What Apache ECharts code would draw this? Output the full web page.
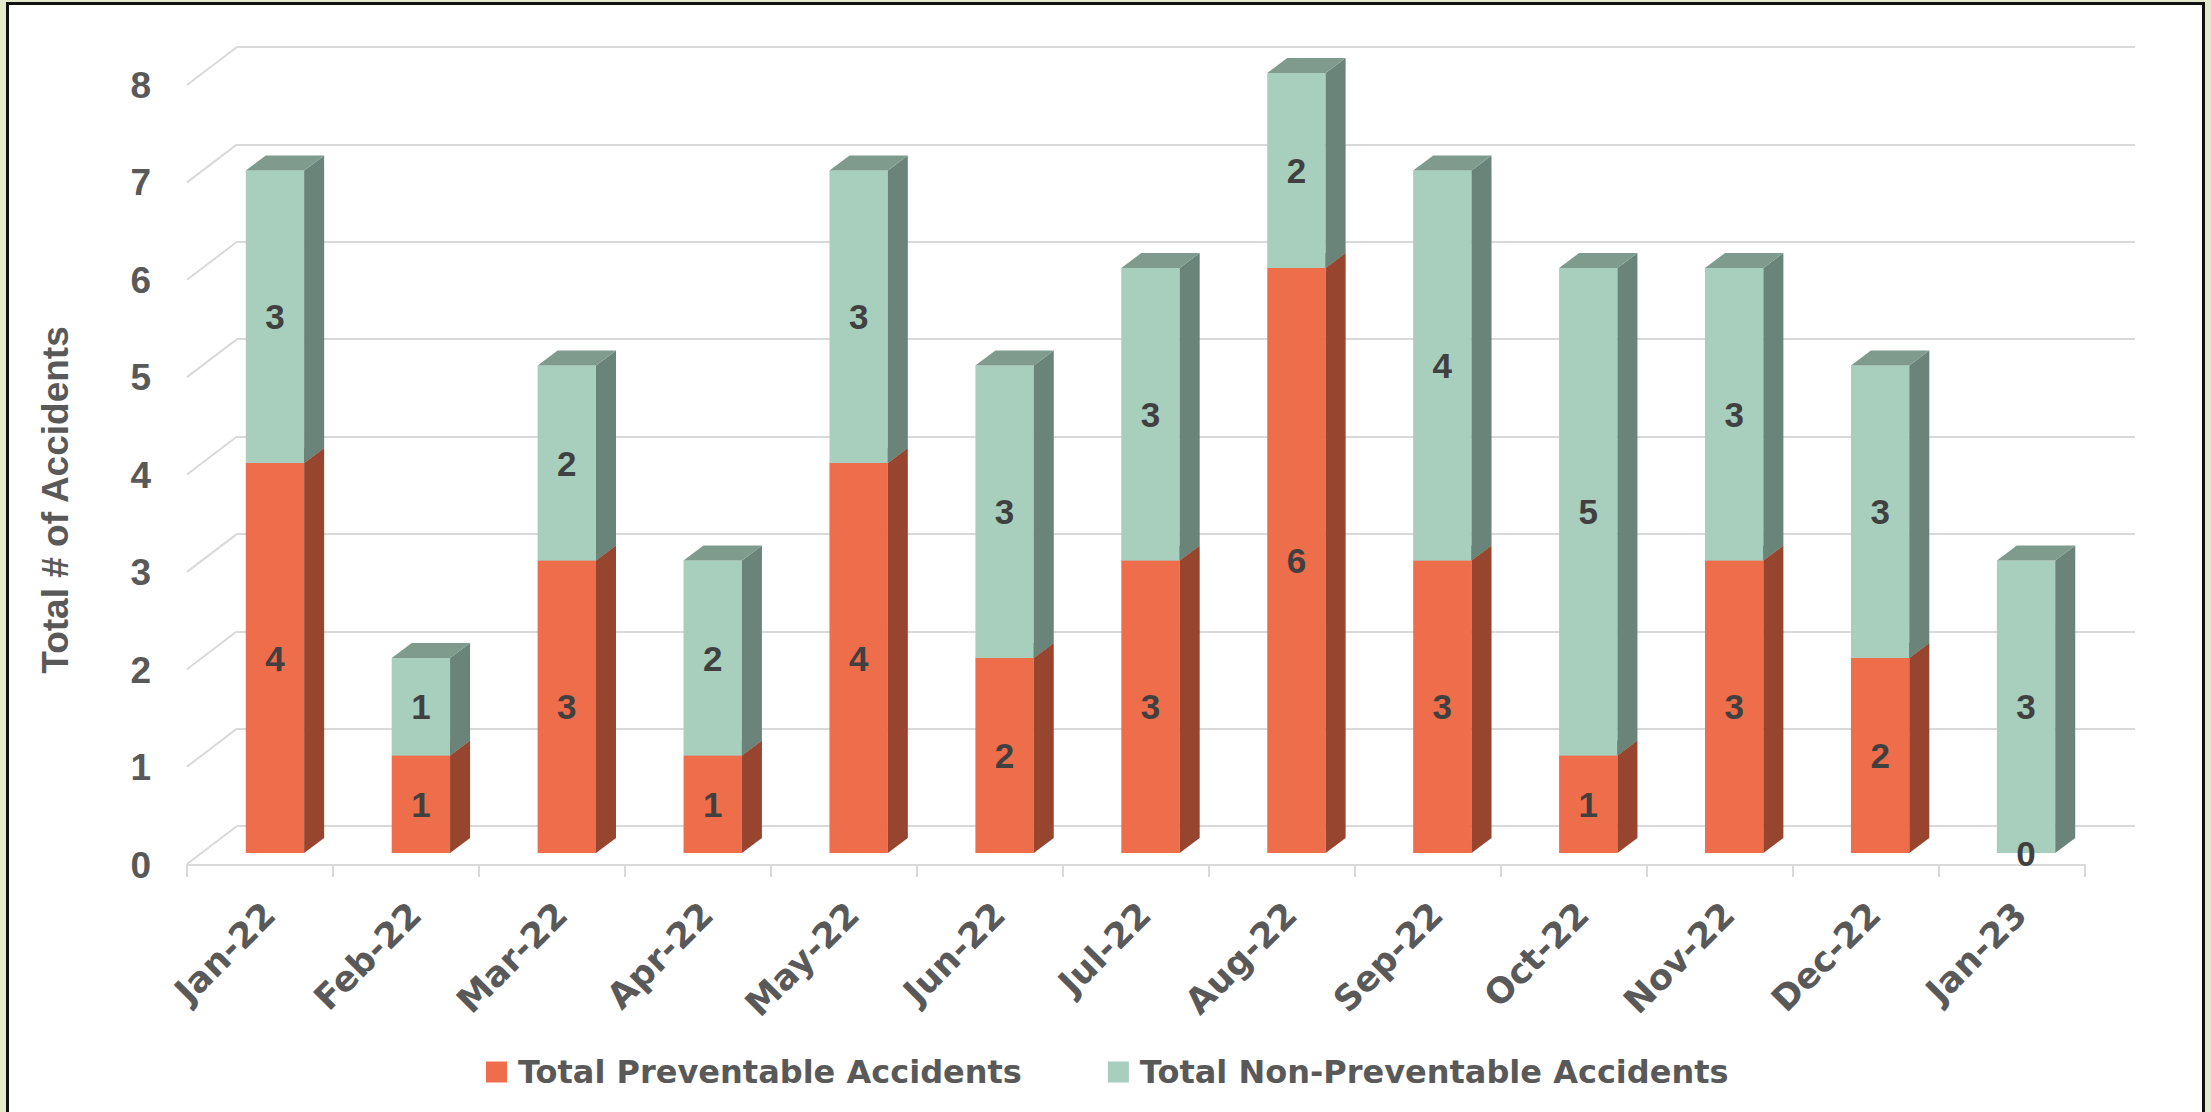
<!DOCTYPE html>
<html><head><meta charset="utf-8">
<script src="https://cdn.jsdelivr.net/npm/echarts@6/dist/echarts.min.js"></script>
<style>
html,body{margin:0;padding:0;width:2211px;height:1112px;overflow:hidden;background:#E3EBCC;}
#frame{position:absolute;left:6px;top:2px;width:2193px;height:1200px;border:3px solid #111;background:#fff;}
#chart{position:absolute;left:0;top:0;width:2211px;height:1112px;}
</style></head><body>
<div id="frame"></div><div id="chart"></div>
<script>
const categories = ['Jan-22','Feb-22','Mar-22','Apr-22','May-22','Jun-22','Jul-22','Aug-22','Sep-22','Oct-22','Nov-22','Dec-22','Jan-23'];
const preventable = [4,1,3,1,4,2,3,6,3,1,3,2,0];
const nonPreventable = [3,1,2,2,3,3,3,2,4,5,3,3,3];
const yTicks = [0,1,2,3,4,5,6,7,8];
const seriesNames = ['Total Preventable Accidents','Total Non-Preventable Accidents'];

const chart = echarts.init(document.getElementById('chart'), null, {renderer:'svg'});

const DX = 20, DY = -15;
const colors = [
  {front:'#EE6D4A', side:'#98452F', top:'#B85A3E'},
  {front:'#A8CEBD', side:'#6A8479', top:'#7F9B8E'}
];

const prevData = preventable.map((v,i)=>[i,0,v]);
const nonData = nonPreventable.map((v,i)=>[i,preventable[i],v]);
const labelData = [].concat(prevData, nonData);

function barRenderer(c){
  return function(params, api){
    const i = api.value(0), base = api.value(1), val = api.value(2);
    const p0 = api.coord([i, base]);
    const p1 = api.coord([i, base + val]);
    const w = api.size([1,0])[0] * 0.4;
    const x0 = p0[0] - w/2, x1 = p0[0] + w/2, yB = p0[1], yT = p1[1];
    if (!(val > 0)) return {type:'group', children:[]};
    return {type:'group', children:[
      {type:'rect', shape:{x:x0, y:yT, width:w, height:yB-yT}, style:{fill:c.front}},
      {type:'polygon', shape:{points:[[x1,yB],[x1+DX,yB+DY],[x1+DX,yT+DY],[x1,yT]]}, style:{fill:c.side}},
      {type:'polygon', shape:{points:[[x0,yT],[x1,yT],[x1+DX,yT+DY],[x0+DX,yT+DY]]}, style:{fill:c.top}}
    ]};
  };
}

function labelRenderer(params, api){
  const i = api.value(0), base = api.value(1), val = api.value(2);
  const p0 = api.coord([i, base]);
  const p1 = api.coord([i, base + val]);
  return {type:'text', x:p0[0], y:(p0[1]+p1[1])/2,
    style:{text:String(val), align:'center', verticalAlign:'middle',
      fill:'#404040', font:'bold 35px "Liberation Sans", Arial, sans-serif'}};
}

function diagRenderer(params, api){
  const v = api.value(0);
  const p = api.coord([0, v]);
  return {type:'line', shape:{x1:p[0], y1:p[1], x2:p[0]-50, y2:p[1]+38},
    style:{stroke:'#D9D9D9', lineWidth:2}};
}

const fontFam = '"DejaVu Sans", sans-serif';

chart.setOption({
  animation:false,
  grid:[
    {left:202, top:73, width:1897, height:780},   // bar front plane
    {left:187, top:85, width:1898, height:780},   // front axis plane
    {left:237, top:47, width:1898, height:779}    // back wall
  ],
  xAxis:[
    {type:'category', gridIndex:0, data:categories, axisLine:{show:false}, axisTick:{show:false},
      axisLabel:{rotate:45, margin:50, interval:0, padding:[0,8,0,0], fontFamily:fontFam, fontWeight:'bold', fontSize:35, color:'#595959'}},
    {type:'category', gridIndex:1, data:categories, axisLine:{show:true, lineStyle:{color:'#D9D9D9', width:2}},
      axisTick:{show:true, length:12, lineStyle:{color:'#D9D9D9', width:2}}, axisLabel:{show:false}},
    {type:'value', gridIndex:2, min:0, max:1, show:false}
  ],
  yAxis:[
    {type:'value', gridIndex:0, min:0, max:8, interval:1, show:false},
    {type:'value', gridIndex:1, min:0, max:8, interval:1, axisLine:{show:false}, axisTick:{show:false}, splitLine:{show:false},
      axisLabel:{margin:36, fontSize:37, fontWeight:'bold', color:'#595959', fontFamily:'"Liberation Sans", Arial, sans-serif'}},
    {type:'value', gridIndex:2, min:0, max:8, interval:1, axisLine:{show:false}, axisTick:{show:false}, axisLabel:{show:false},
      splitLine:{show:true, lineStyle:{color:'#D9D9D9', width:2}}}
  ],
  legend:{
    data:seriesNames, left:481, top:1051, itemWidth:21, itemHeight:21, itemGap:86, icon:'rect',
    textStyle:{padding:[0,0,0,6], fontFamily:fontFam, fontWeight:'bold', fontSize:32, color:'#595959'}
  },
  graphic:[
    {type:'text', x:55, y:500, rotation:Math.PI/2,
      style:{text:'Total # of Accidents', align:'center', verticalAlign:'middle', fill:'#595959',
        font:'bold 37px "Liberation Sans", Arial, sans-serif'}}
  ],
  series:[
    {type:'custom', name:'wall', xAxisIndex:2, yAxisIndex:2, data:yTicks.map(v=>[v]), renderItem:diagRenderer, z:1, silent:true},
    {type:'custom', name:seriesNames[0], xAxisIndex:0, yAxisIndex:0, data:prevData, renderItem:barRenderer(colors[0]),
      itemStyle:{color:colors[0].front}, z:2},
    {type:'custom', name:seriesNames[1], xAxisIndex:0, yAxisIndex:0, data:nonData, renderItem:barRenderer(colors[1]),
      itemStyle:{color:colors[1].front}, z:3},
    {type:'custom', name:'labels', xAxisIndex:0, yAxisIndex:0, data:labelData, renderItem:labelRenderer, z:5, silent:true}
  ]
});
</script>
</body></html>
